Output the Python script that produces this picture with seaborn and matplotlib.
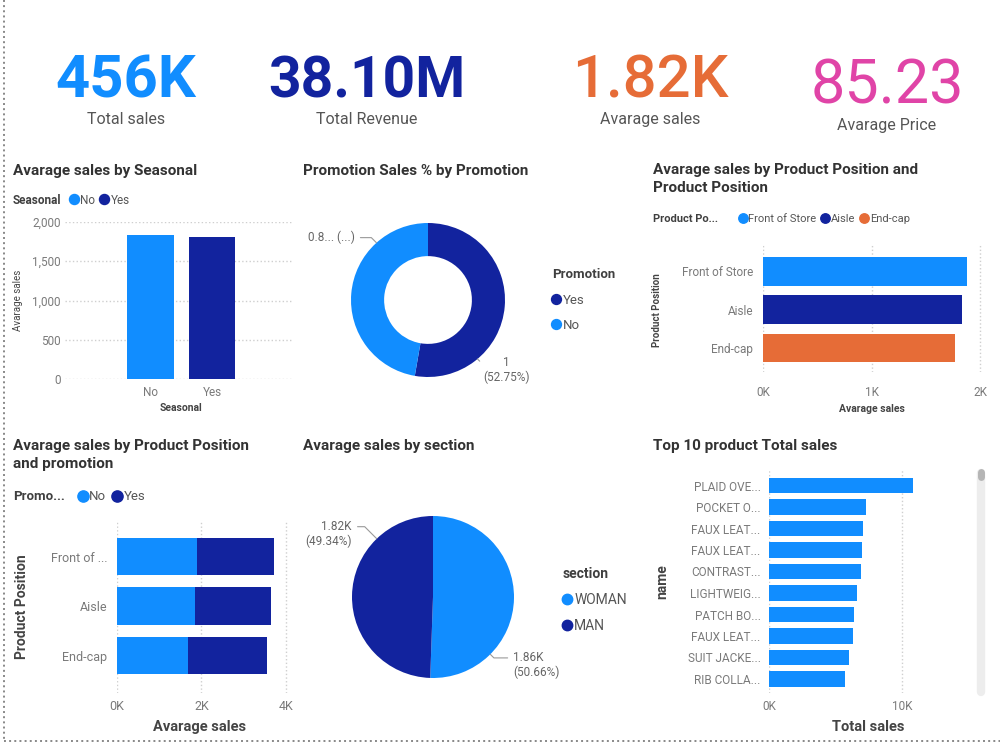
import numpy as np
import pandas as pd
import matplotlib
matplotlib.use('Agg')
import matplotlib.pyplot as plt
import seaborn as sns
from matplotlib.lines import Line2D

#%% data
kpi_values = ['456K', '38.10M', '1.82K', '85.23']
kpi_labels = ['Total sales', 'Total Revenue', 'Avarage sales', 'Avarage Price']

seasonal = ['No', 'Yes']
seasonal_avg = [1830, 1815]

promotion = ['Yes', 'No']
promotion_share = [1.0, 0.896]
promotion_text = ['1\n(52.75%)', '0.8... (...)']

positions = ['Front of Store', 'Aisle', 'End-cap']
position_avg = [1880, 1834, 1770]

pos_short = ['Front of ...', 'Aisle', 'End-cap']
pos_promo_no = [1900, 1850, 1675]
pos_promo_yes = [1820, 1790, 1875]

section = ['WOMAN', 'MAN']
section_avg = [1860, 1820]
section_text = ['1.86K\n(50.66%)', '1.82K\n(49.34%)']

top_names = ['PLAID OVE...', 'POCKET O...', 'FAUX LEAT...', 'FAUX LEAT...',
             'CONTRAST...', 'LIGHTWEIG...', 'PATCH BO...', 'FAUX LEAT...',
             'SUIT JACKE...', 'RIB COLLA...']
top_sales = [10800, 7290, 7090, 6990, 6940, 6640, 6410, 6340, 6020, 5740]

#%% style
plt.rcParams['font.family'] = ['Roboto', 'DejaVu Sans']
LIGHT = '#118DFF'
DARK = '#12239E'
ORANGE = '#E66C37'
PINK = '#E044A7'
TXT = '#333333'
TICK = '#7A7A7A'
GRID = '#CFCFCF'

fig = plt.figure(figsize=(10, 7.5), dpi=100)
fig.patch.set_facecolor('white')


def fx(x):
    return x / 1000


def fy(y):
    return 1 - y / 750


def box(l, t, r, b):
    return [l / 1000, 1 - b / 750, (r - l) / 1000, (b - t) / 750]


def clean(ax):
    for s in ax.spines.values():
        s.set_visible(False)
    ax.set_xlabel('')
    ax.set_ylabel('')


def row_legend(ax, title, labels, colors, x_title, x_marks, y, fs):
    fig.text(fx(x_title), fy(y), title, weight='bold', fontsize=fs,
             color='#404040', va='center')
    handles = [Line2D([], [], ls='', marker='o', ms=fs * 0.85, color=c)
               for c in colors]
    ax.legend(handles, labels, ncol=len(labels), loc='center left',
              bbox_to_anchor=(fx(x_marks), fy(y)), bbox_transform=fig.transFigure,
              frameon=False, fontsize=fs, handlelength=0.7, handletextpad=0.15,
              columnspacing=0.45, borderpad=0, borderaxespad=0,
              labelcolor='#555555')


def col_legend(ax, title, labels, colors, x, y, fs, spacing):
    handles = [Line2D([], [], ls='', marker='o', ms=fs * 0.75, color=c)
               for c in colors]
    leg = ax.legend(handles, labels, title=title, loc='upper left',
                    bbox_to_anchor=(fx(x), fy(y)), bbox_transform=fig.transFigure,
                    frameon=False, fontsize=fs, alignment='left',
                    title_fontproperties={'weight': 'bold', 'size': fs},
                    handlelength=0.6, handletextpad=0.2, labelspacing=spacing,
                    borderpad=0, borderaxespad=0, labelcolor='#555555')
    leg.get_title().set_color('#404040')


#%% KPI cards
kpi_x = [126, 367, 650, 887]
kpi_base = [98, 98, 98, 103]
kpi_colors = [LIGHT, DARK, ORANGE, PINK]
kpi_weight = ['bold', 'bold', 'medium', 'normal']
kpi_size = [43, 41, 43, 44]
lab_base = [124, 124, 124, 130]
for v, lab, x, yb, c, w, s, yl in zip(kpi_values, kpi_labels, kpi_x, kpi_base,
                                      kpi_colors, kpi_weight, kpi_size, lab_base):
    fig.text(fx(x), fy(yb), v, ha='center', va='baseline', fontsize=s,
             color=c, weight=w)
    fig.text(fx(x), fy(yl), lab, ha='center', va='baseline', fontsize=11.5,
             color='#555555')

#%% Avarage sales by Seasonal
ax1 = fig.add_axes(box(65, 222, 292, 379))
sns.barplot(x=seasonal, y=seasonal_avg, hue=seasonal, palette=[LIGHT, DARK],
            saturation=1, width=0.76, errorbar=None, legend=False, ax=ax1)
ax1.set_xlim(-1.39, 2.30)
ax1.set_ylim(0, 2000)
ax1.set_yticks([0, 500, 1000, 1500, 2000])
ax1.set_yticklabels(['0', '500', '1,000', '1,500', '2,000'])
ax1.yaxis.grid(True, ls=':', color=GRID, lw=1)
ax1.set_axisbelow(True)
clean(ax1)
ax1.tick_params(length=0, labelsize=8.5, labelcolor=TICK)
ax1.tick_params(axis='y', pad=3)
ax1.tick_params(axis='x', pad=5)
fig.text(fx(13), fy(171), 'Avarage sales by Seasonal', fontsize=11,
         weight='bold', color=TXT, va='center')
row_legend(ax1, 'Seasonal', seasonal, [LIGHT, DARK], 13, 70, 200, 8.5)
fig.text(fx(18), fy(300), 'Avarage sales', rotation=90, fontsize=7,
         color='#444444', ha='center', va='center')
fig.text(fx(181), fy(408), 'Seasonal', fontsize=7.5, weight='bold',
         color='#444444', ha='center', va='center')

#%% Promotion donut
ax2 = fig.add_axes(box(318, 190, 538, 410))
ax2.pie(promotion_share, colors=[DARK, LIGHT], startangle=90,
        counterclock=False, wedgeprops=dict(width=0.43, linewidth=0))
L = 110 / 77
ax2.set_xlim(-L, L)
ax2.set_ylim(-L, L)
ax2.annotate(promotion_text[0], xy=(np.cos(np.radians(-50)), np.sin(np.radians(-50))),
             xytext=(0.72, -0.91), ha='left', va='center', multialignment='center',
             fontsize=8.5, color='#666666',
             arrowprops=dict(arrowstyle='-', color='#999999', lw=0.8, shrinkA=1,
                             shrinkB=0, relpos=(0, 0.75),
                             connectionstyle='angle,angleA=0,angleB=-45,rad=0'))
ax2.annotate(promotion_text[1], xy=(np.cos(np.radians(132)), np.sin(np.radians(132))),
             xytext=(-0.95, 0.81), ha='right', va='center',
             fontsize=8.5, color='#666666',
             arrowprops=dict(arrowstyle='-', color='#999999', lw=0.8, shrinkA=2,
                             shrinkB=0, relpos=(1, 0.5),
                             connectionstyle='angle,angleA=0,angleB=-45,rad=0'))
fig.text(fx(303), fy(171), 'Promotion Sales % by Promotion', fontsize=11,
         weight='bold', color=TXT, va='center')
col_legend(ax2, 'Promotion', promotion, [DARK, LIGHT], 552, 268, 9.5, 0.95)

#%% Avarage sales by Product Position
ax3 = fig.add_axes(box(763, 245, 985, 372))
sns.barplot(x=position_avg, y=positions, hue=positions, orient='h',
            palette=[LIGHT, DARK, ORANGE], saturation=1, width=0.75,
            errorbar=None, legend=False, ax=ax3)
ax3.set_xlim(0, 2046)
ax3.set_ylim(2 + (372 - 348) / 38.5, -(271.5 - 245) / 38.5)
ax3.set_xticks([0, 1000, 2000])
ax3.set_xticklabels(['0K', '1K', '2K'])
ax3.xaxis.grid(True, ls=':', color=GRID, lw=1)
ax3.set_axisbelow(True)
clean(ax3)
ax3.tick_params(length=0, labelsize=8.5, labelcolor=TICK)
ax3.tick_params(axis='y', pad=7)
ax3.tick_params(axis='x', pad=10)
fig.text(fx(653), fy(163), 'Avarage sales by Product Position and\nProduct Position',
         fontsize=11, weight='bold', color=TXT, va='top', linespacing=1.35)
row_legend(ax3, 'Product Po...', positions, [LIGHT, DARK, ORANGE], 653, 739, 219, 8)
fig.text(fx(657), fy(310), 'Product Position', rotation=90, fontsize=7,
         weight='bold', color='#444444', ha='center', va='center')
fig.text(fx(872), fy(409), 'Avarage sales', fontsize=7.5, weight='bold',
         color='#444444', ha='center', va='center')

#%% Avarage sales by Product Position and promotion (stacked)
pos_total = [a + b for a, b in zip(pos_promo_no, pos_promo_yes)]
ax4 = fig.add_axes(box(117, 520, 290, 693))
sns.barplot(x=pos_total, y=pos_short, orient='h', color=DARK, saturation=1,
            width=0.75, errorbar=None, ax=ax4)
sns.barplot(x=pos_promo_no, y=pos_short, orient='h', color=LIGHT, saturation=1,
            width=0.75, errorbar=None, ax=ax4)
ax4.set_xlim(0, 4100)
ax4.set_ylim(2 + (693 - 655.5) / 49.5, -(556.5 - 520) / 49.5)
ax4.set_xticks([0, 2000, 4000])
ax4.set_xticklabels(['0K', '2K', '4K'])
ax4.xaxis.grid(True, ls=':', color=GRID, lw=1)
ax4.set_axisbelow(True)
clean(ax4)
ax4.tick_params(length=0, labelsize=9, labelcolor=TICK)
ax4.tick_params(axis='y', pad=7)
ax4.tick_params(axis='x', pad=5)
fig.text(fx(13), fy(439), 'Avarage sales by Product Position\nand promotion',
         fontsize=11, weight='bold', color=TXT, va='top', linespacing=1.4)
row_legend(ax4, 'Promo...', ['No', 'Yes'], [LIGHT, DARK], 13, 78, 497, 9.5)
fig.text(fx(22), fy(607), 'Product Position', rotation=90, fontsize=10,
         weight='bold', color='#444444', ha='center', va='center')
fig.text(fx(200), fy(727), 'Avarage sales', fontsize=10.5, weight='bold',
         color='#444444', ha='center', va='center')

#%% Avarage sales by section (pie)
ax5 = fig.add_axes(box(323, 487, 543, 707))
ax5.pie(section_avg, colors=[LIGHT, DARK], startangle=90,
        counterclock=False, wedgeprops=dict(linewidth=0))
L5 = 110 / 81
ax5.set_xlim(-L5, L5)
ax5.set_ylim(-L5, L5)
ax5.annotate(section_text[0], xy=(np.cos(np.radians(-45)), np.sin(np.radians(-45))),
             xytext=(0.99, -0.84), ha='left', va='center', fontsize=8.5,
             color='#666666',
             arrowprops=dict(arrowstyle='-', color='#999999', lw=0.8, shrinkA=2,
                             shrinkB=0, relpos=(0, 0.75),
                             connectionstyle='angle,angleA=0,angleB=-45,rad=0'))
ax5.annotate(section_text[1], xy=(np.cos(np.radians(134)), np.sin(np.radians(134))),
             xytext=(-1.0, 0.78), ha='right', va='center', fontsize=8.5,
             color='#666666',
             arrowprops=dict(arrowstyle='-', color='#999999', lw=0.8, shrinkA=2,
                             shrinkB=0, relpos=(1, 0.75),
                             connectionstyle='angle,angleA=0,angleB=-45,rad=0'))
fig.text(fx(303), fy(446), 'Avarage sales by section', fontsize=11,
         weight='bold', color=TXT, va='center')
col_legend(ax5, 'section', section, [LIGHT, DARK], 563, 567, 10, 0.85)

#%% Top 10 product Total sales
top_df = pd.DataFrame({'rank': range(len(top_sales)), 'sales': top_sales})
ax6 = fig.add_axes(box(769, 470, 960, 693))
sns.barplot(data=top_df, x='sales', y='rank', orient='h', color=LIGHT,
            saturation=1, width=0.72, errorbar=None, ax=ax6)
ax6.set_yticks(range(len(top_names)))
ax6.set_yticklabels(top_names)
ax6.set_xlim(0, (960 - 769) / 13.3 * 1000)
ax6.set_ylim(9 + (693 - 679) / 21.5, -(485.5 - 470) / 21.5)
ax6.set_xticks([0, 10000])
ax6.set_xticklabels(['0K', '10K'])
ax6.xaxis.grid(True, ls=':', color=GRID, lw=1)
ax6.set_axisbelow(True)
clean(ax6)
ax6.tick_params(length=0, labelsize=8.5, labelcolor=TICK)
ax6.tick_params(axis='y', pad=6)
ax6.tick_params(axis='x', pad=5)
fig.text(fx(653), fy(446), 'Top 10 product Total sales', fontsize=11,
         weight='bold', color=TXT, va='center')
fig.text(fx(662), fy(582), 'name', rotation=90, fontsize=10,
         weight='bold', color='#444444', ha='center', va='center')
fig.text(fx(868), fy(727), 'Total sales', fontsize=10.5, weight='bold',
         color='#444444', ha='center', va='center')

# scroll bar of the table visual
fig.add_artist(Line2D([fx(981), fx(981)], [fy(473), fy(692)], lw=6,
                      color='#EDEDED', solid_capstyle='round',
                      transform=fig.transFigure))
fig.add_artist(Line2D([fx(981), fx(981)], [fy(472), fy(477)], lw=5,
                      color='#B5B5B5', solid_capstyle='round',
                      transform=fig.transFigure))

# dotted page borders
fig.add_artist(Line2D([fx(4), fx(4)], [fy(0), fy(741)], lw=1.4, ls=':',
                      color='#888888', transform=fig.transFigure))
fig.add_artist(Line2D([fx(4), fx(1000)], [fy(741), fy(741)], lw=1.4, ls=':',
                      color='#888888', transform=fig.transFigure))

fig.savefig('out.png', dpi=100, facecolor='white')
